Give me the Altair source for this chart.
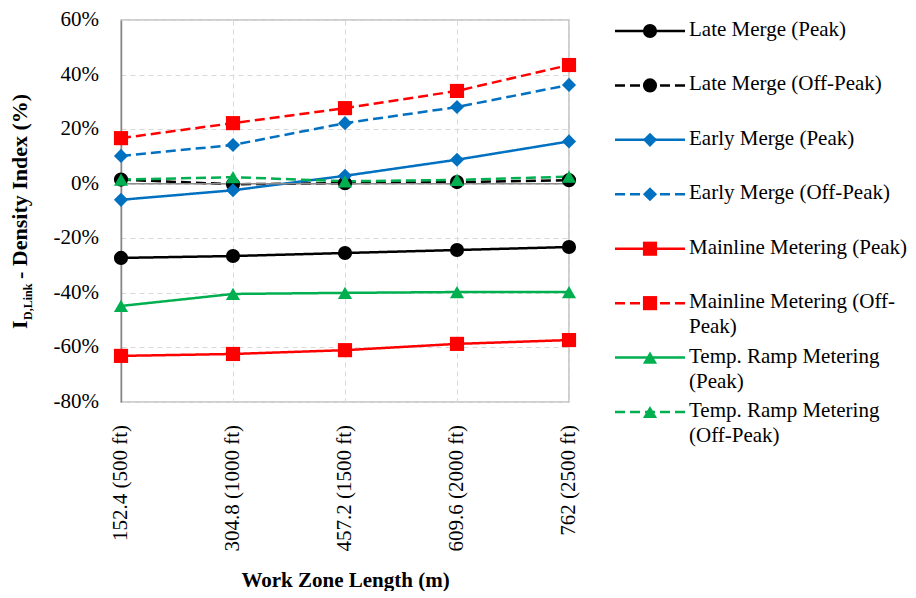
import altair as alt
import pandas as pd

FONT = "Liberation Serif"

lengths = ["152.4 (500 ft)", "304.8 (1000 ft)", "457.2 (1500 ft)", "609.6 (2000 ft)", "762 (2500 ft)"]
series_names = [
    "Late Merge (Peak)", "Late Merge (Off-Peak)",
    "Early Merge (Peak)", "Early Merge (Off-Peak)",
    "Mainline Metering (Peak)", "Mainline Metering (Off-Peak)",
    "Temp. Ramp Metering (Peak)", "Temp. Ramp Metering (Off-Peak)",
]
legend_labels = [
    "Late Merge (Peak)", "Late Merge (Off-Peak)",
    "Early Merge (Peak)", "Early Merge (Off-Peak)",
    "Mainline Metering (Peak)", "Mainline Metering (Off-\nPeak)",
    "Temp. Ramp Metering\n(Peak)", "Temp. Ramp Metering\n(Off-Peak)",
]
dash_kind = ["solid", "dash", "solid", "dash", "solid", "dash", "solid", "dash"]
colors = ["#000000", "#000000", "#0070C0", "#0070C0", "#FF0000", "#FF0000", "#00B050", "#00B050"]
shapes = ["circle", "circle", "diamond", "diamond", "square", "square", "triangle-up", "triangle-up"]
sizes = [200, 200, 250, 250, 225, 225, 225, 225]

late_peak = [-27.2, -26.5, -25.4, -24.3, -23.2]
late_off = [1.5, -0.2, 0.2, 0.6, 1.3]
early_peak = [-5.9, -2.4, 2.9, 8.8, 15.5]
early_off = [10.2, 14.2, 22.2, 28.1, 36.2]
main_peak = [-63.1, -62.4, -61.0, -58.7, -57.3]
main_off = [16.7, 22.2, 27.7, 34.0, 43.5]
ramp_peak = [-44.8, -40.4, -40.0, -39.7, -39.7]
ramp_off = [1.5, 2.4, 0.9, 1.4, 2.6]

all_values = [late_peak, late_off, early_peak, early_off, main_peak, main_off, ramp_peak, ramp_off]

y_ticks = [-80, -60, -40, -20, 0, 20, 40, 60]

rows = []
for name, dk, vals in zip(series_names, dash_kind, all_values):
    for L, v in zip(lengths, vals):
        rows.append({"series": name, "dash": dk, "length": L, "value": v})
df = pd.DataFrame(rows)

leg_df = pd.DataFrame({"series": series_names, "label": legend_labels, "dash": dash_kind})
ytick_df = pd.DataFrame({"value": y_ticks})
xtick_df = pd.DataFrame({"length": lengths})

color_scale = alt.Scale(domain=series_names, range=colors)
shape_scale = alt.Scale(domain=series_names, range=shapes)
size_scale = alt.Scale(domain=series_names, range=sizes)
dash_scale = alt.Scale(domain=["solid", "dash"], range=[[1, 0], [10, 5]])

x_enc = alt.X(
    "length:N", sort=lengths,
    scale=alt.Scale(type="point", padding=0),
    axis=alt.Axis(
        title="Work Zone Length (m)", labels=False,
        ticks=False, domain=False, grid=True, gridDash=[5, 4], gridColor="#d9d9d9",
        titleFont=FONT, titleFontSize=21, titleFontWeight="bold", titleColor="black",
        titlePadding=167,
    ),
)
y_enc = alt.Y(
    "value:Q",
    scale=alt.Scale(domain=[-80, 60], nice=False, zero=False),
    axis=alt.Axis(
        title="", values=y_ticks, labels=False,
        ticks=False, domainColor="#868686", domainWidth=1.5,
        grid=True, gridDash=[5, 4], gridColor="#d9d9d9",
    ),
)

base = alt.Chart(df).encode(
    x=x_enc, y=y_enc,
    color=alt.Color("series:N", scale=color_scale, legend=None),
)

lines = base.mark_line(strokeWidth=2.5).encode(
    detail="series:N",
    strokeDash=alt.StrokeDash("dash:N", scale=dash_scale, legend=None),
)
zero_rule = alt.Chart(pd.DataFrame({"value": [0]})).mark_rule(color="#8c8c8c", strokeWidth=1.5).encode(
    y=y_enc
)
points = base.mark_point(filled=True, opacity=1).encode(
    shape=alt.Shape("series:N", scale=shape_scale, legend=None),
    size=alt.Size("series:N", scale=size_scale, legend=None),
)

ylabels = alt.Chart(ytick_df).transform_calculate(
    lab="datum.value + '%'"
).mark_text(align="right", baseline="middle", font=FONT, fontSize=21, color="black").encode(
    y=y_enc, x=alt.value(-22), text="lab:N"
)
xlabels = alt.Chart(xtick_df).mark_text(
    angle=270, align="right", baseline="middle", font=FONT, fontSize=21, color="black"
).encode(x=x_enc, y=alt.value(405), text="length:N")

t_i = alt.Chart(pd.DataFrame({"t": ["I"]})).mark_text(
    angle=270, align="left", baseline="alphabetic", font=FONT, fontSize=22, fontWeight="bold", color="black"
).encode(text="t:N", x=alt.value(-94), y=alt.value(309))
t_sub = alt.Chart(pd.DataFrame({"t": ["D,Link"]})).mark_text(
    angle=270, align="left", baseline="alphabetic", font=FONT, fontSize=12, fontWeight="bold", color="black"
).encode(text="t:N", x=alt.value(-89), y=alt.value(300))
t_main = alt.Chart(pd.DataFrame({"t": ["- Density Index (%)"]})).mark_text(
    angle=270, align="left", baseline="alphabetic", font=FONT, fontSize=22, fontWeight="bold", color="black"
).encode(text="t:N", x=alt.value(-94), y=alt.value(259))

main = alt.layer(lines, zero_rule, points, ylabels, xlabels, t_i, t_sub, t_main).properties(
    width=448, height=382
)

leg_base = alt.Chart(leg_df).encode(
    y=alt.Y("series:N", sort=series_names, scale=alt.Scale(type="point", padding=0, range=[11, 392]), axis=None),
)
leg_rule = leg_base.mark_rule(strokeWidth=2.5).encode(
    x=alt.value(8), x2=alt.value(78),
    color=alt.Color("series:N", scale=color_scale, legend=None),
    strokeDash=alt.StrokeDash("dash:N", scale=dash_scale, legend=None),
)
leg_pts = leg_base.mark_point(filled=True, opacity=1).encode(
    x=alt.value(43),
    color=alt.Color("series:N", scale=color_scale, legend=None),
    shape=alt.Shape("series:N", scale=shape_scale, legend=None),
    size=alt.Size("series:N", scale=size_scale, legend=None),
)
leg_text = leg_base.mark_text(
    align="left", baseline="top", dy=-12, lineBreak="\n", lineHeight=25,
    font=FONT, fontSize=21, color="black",
).encode(x=alt.value(82), text="label:N")

legend = alt.layer(leg_rule, leg_pts, leg_text).properties(
    width=250, height=382, view=alt.ViewBackground(stroke="transparent")
)

chart = alt.hconcat(main, legend, spacing=26).properties(
    padding={"left": 0, "top": 0, "right": 0, "bottom": 0}
).configure(padding=0).configure_view(stroke="#bfbfbf", strokeWidth=1.5).configure_text(font=FONT).resolve_scale(
    color="independent", shape="independent", size="independent", strokeDash="independent"
)

chart.save("out.html", embed_options={"renderer": "svg", "actions": False})
